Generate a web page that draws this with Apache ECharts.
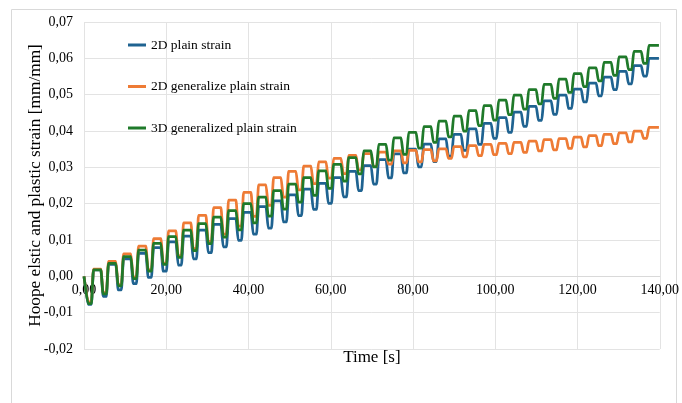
<!DOCTYPE html>
<html><head><meta charset="utf-8">
<script src="https://cdn.jsdelivr.net/npm/echarts@6/dist/echarts.min.js"></script>
<style>html,body{margin:0;padding:0;background:#fff}#c{width:682px;height:403px}</style>
</head><body><div id="c"></div>
<script>
// time (s) of the bottom of each loading dip
const cycleMin = [1.40,5.05,8.70,12.35,16.00,19.65,23.30,26.95,30.60,34.25,37.90,41.55,45.20,48.85,52.50,56.15,59.80,63.45,67.10,70.75,74.40,78.05,81.70,85.35,89.00,92.65,96.30,99.95,103.60,107.25,110.90,114.55,118.20,121.85,125.50,129.15,132.80,136.45];
// 2D plain strain
const blueLow  = [-.0077,-.0055,-.0037,-.0020,-.0003,.0014,.0031,.0048,.0065,.0081,.0099,.0116,.0133,.0150,.0167,.0184,.0201,.0219,.0236,.0254,.0271,.0285,.0301,.0316,.0331,.0347,.0363,.0380,.0396,.0413,.0429,.0446,.0462,.0480,.0497,.0514,.0530,.0551];
const blueHigh = [.0018,.0033,.0048,.0063,.0079,.0095,.0111,.0127,.0143,.0159,.0176,.0192,.0208,.0224,.0240,.0256,.0272,.0289,.0305,.0321,.0337,.0350,.0364,.0378,.0391,.0406,.0421,.0437,.0452,.0468,.0483,.0499,.0515,.0532,.0548,.0564,.0580,.0600];
// 2D generalize plain strain
const orangeLow  = [-.0070,-.0045,-.0023,-.0002,.0018,.0036,.0056,.0076,.0096,.0116,.0138,.0165,.0195,.0218,.0238,.0255,.0270,.0283,.0293,.0302,.0309,.0312,.0315,.0318,.0325,.0329,.0332,.0335,.0338,.0341,.0345,.0348,.0352,.0356,.0360,.0365,.0370,.0380];
const orangeHigh = [.0020,.0041,.0062,.0083,.0104,.0125,.0147,.0168,.0189,.0210,.0231,.0252,.0272,.0289,.0303,.0315,.0325,.0333,.0338,.0342,.0345,.0347,.0349,.0351,.0357,.0360,.0363,.0366,.0369,.0372,.0376,.0379,.0383,.0387,.0391,.0395,.0400,.0410];
// 3D generalized plain strain
const greenLow  = [-.0075,-.0048,-.0026,-.0006,.0014,.0033,.0052,.0071,.0090,.0108,.0128,.0147,.0166,.0185,.0204,.0223,.0242,.0262,.0282,.0301,.0320,.0336,.0353,.0369,.0384,.0400,.0415,.0430,.0445,.0460,.0475,.0490,.0506,.0522,.0538,.0553,.0569,.0586];
const greenHigh = [.0018,.0036,.0054,.0072,.0091,.0109,.0127,.0145,.0163,.0181,.0200,.0218,.0236,.0254,.0272,.0290,.0308,.0327,.0345,.0363,.0381,.0396,.0412,.0427,.0441,.0456,.0470,.0485,.0499,.0514,.0528,.0543,.0558,.0574,.0589,.0604,.0619,.0636];
const names = ['2D plain strain','2D generalize plain strain','3D generalized plain strain'];
const colors = ['#1f6391','#ee7b35','#1f7a2a'];
const xTicks = {min:0,max:140,interval:20};
const yTicks = {min:-0.02,max:0.07,interval:0.01};
const tEnd = 139.8;

function build(low, high){
  const pts=[[0,0]];
  for(let i=0;i<cycleMin.length;i++){
    const m=cycleMin[i];
    pts.push([m-0.4,low[i]],[m+0.4,low[i]],[m+0.9,high[i]],[m+2.7,high[i]]);
  }
  pts.push([tEnd,high[high.length-1]]);
  return pts;
}
const serif='"Liberation Serif","Times New Roman",serif';
const fmt=v=>v.toFixed(2).replace('.',',');
const plotH = 403-22-54;
const zeroOffset = -plotH*(0-yTicks.min)/(yTicks.max-yTicks.min);
const chart=echarts.init(document.getElementById('c'));
chart.setOption({
  animation:false,
  graphic:[{type:'rect',shape:{x:11.5,y:9.5,width:665,height:420},style:{fill:'none',stroke:'#d9d9d9',lineWidth:1},silent:true}],
  grid:{left:84,right:18,top:22,bottom:54},
  legend:{orient:'vertical',left:123,top:33,itemGap:27.5,itemWidth:18,itemHeight:3,icon:'rect',
    textStyle:{fontFamily:serif,fontSize:13.5,color:'#000'},data:names},
  xAxis:{type:'value',min:xTicks.min,max:xTicks.max,interval:xTicks.interval,
    position:'bottom',offset:zeroOffset,
    name:'Time [s]',nameLocation:'middle',nameGap:73,nameMoveOverlap:false,
    nameTextStyle:{fontFamily:serif,fontSize:17,color:'#000'},
    axisLine:{onZero:false,lineStyle:{color:'#d9d9d9'}},axisTick:{show:false},
    axisLabel:{fontFamily:serif,fontSize:14,color:'#000',formatter:fmt,margin:7},
    splitLine:{show:true,lineStyle:{color:'#e3e3e3'}}},
  yAxis:{type:'value',min:yTicks.min,max:yTicks.max,interval:yTicks.interval,
    name:'Hoope elstic and plastic strain [mm/mm]',nameLocation:'middle',nameGap:40,nameMoveOverlap:false,
    nameTextStyle:{fontFamily:serif,fontSize:17.3,color:'#000'},
    axisLine:{show:false},axisTick:{show:false},
    axisLabel:{fontFamily:serif,fontSize:14,color:'#000',formatter:fmt,margin:11},
    splitLine:{show:true,lineStyle:{color:'#e3e3e3'}}},
  series:[
    {name:names[0],type:'line',data:build(blueLow,blueHigh),showSymbol:false,smooth:0.2,smoothMonotone:'x',lineStyle:{width:2.75,color:colors[0]},itemStyle:{color:colors[0]}},
    {name:names[1],type:'line',data:build(orangeLow,orangeHigh),showSymbol:false,smooth:0.2,smoothMonotone:'x',lineStyle:{width:2.75,color:colors[1]},itemStyle:{color:colors[1]}},
    {name:names[2],type:'line',data:build(greenLow,greenHigh),showSymbol:false,smooth:0.2,smoothMonotone:'x',lineStyle:{width:2.75,color:colors[2]},itemStyle:{color:colors[2]}}
  ]
});
</script></body></html>
